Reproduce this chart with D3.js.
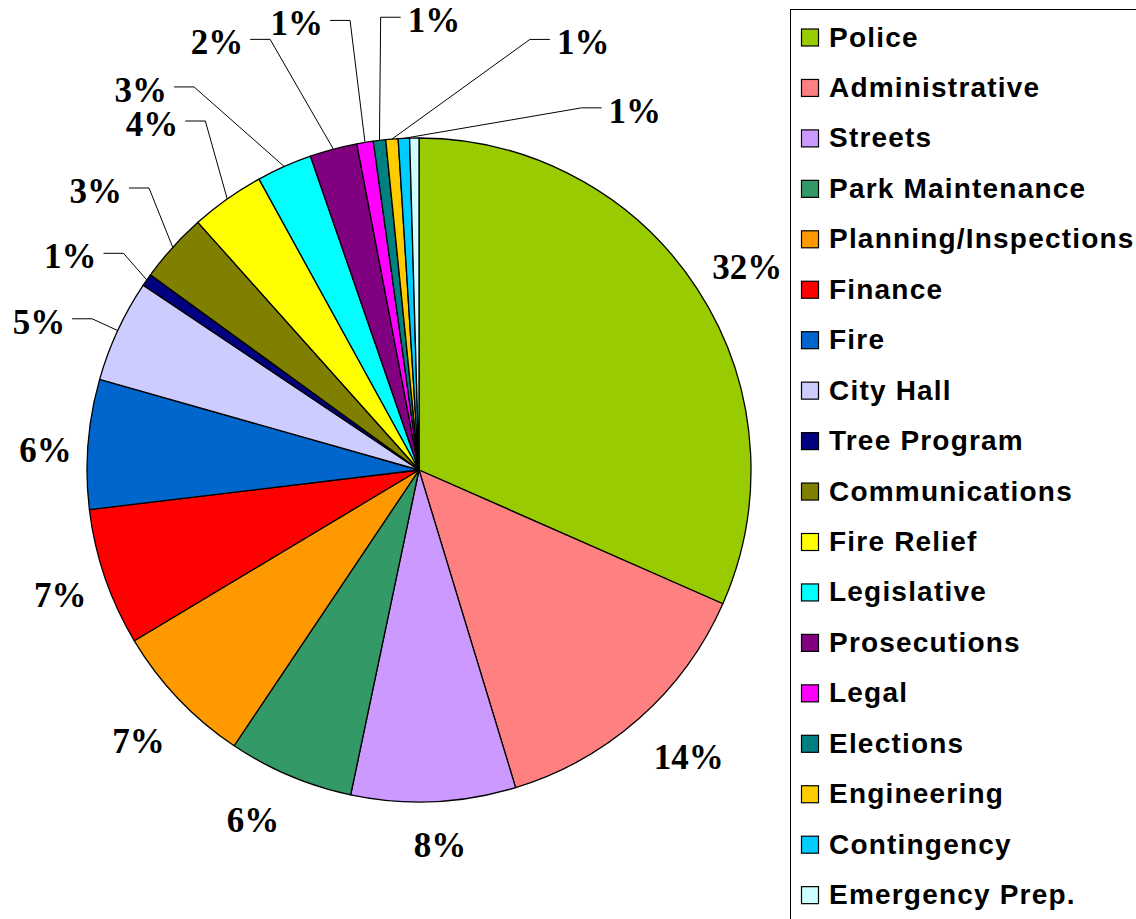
<!DOCTYPE html>
<html>
<head>
<meta charset="utf-8">
<script src="https://cdn.jsdelivr.net/npm/d3@7"></script>
<style>
  body { margin: 0; background: #fff; }
  svg { display: block; }
</style>
</head>
<body>
<div id="chart"></div>
<script>
"use strict";

const categories = ["Police", "Administrative", "Streets", "Park Maintenance", "Planning/Inspections",
    "Finance", "Fire", "City Hall", "Tree Program", "Communications", "Fire Relief", "Legislative",
    "Prosecutions", "Legal", "Elections", "Engineering", "Contingency", "Emergency Prep."];
const shares = [31.6, 13.7, 8.0, 6.1, 7.0, 6.7, 6.3, 5.0, 0.6, 3.4, 3.6, 2.7, 2.3, 0.8, 0.6, 0.6, 0.55, 0.45];
const colors = ["#99CC00", "#FF8080", "#CC99FF", "#339966", "#FF9900", "#FF0000", "#0066CC", "#CCCCFF",
    "#000080", "#808000", "#FFFF00", "#00FFFF", "#800080", "#FF00FF", "#008080", "#FFCC00", "#00CCFF", "#CCFFFF"];

// where Excel put each % label: [angle deg clockwise from top, distance from centre]
const labelSpots = {
    "Police": [58.25, 386],
    "Administrative": [136.8, 394],
    "Streets": [176.8, 376],
    "Park Maintenance": [205.4, 387],
    "Planning/Inspections": [226.0, 390],
    "Finance": [250.8, 380],
    "Fire": [273.1, 374]
};
// small slices, label pushed out with a leader line
const leaderSpots = {
    "City Hall": [291.3, 408],
    "Tree Program": [301.5, 409],
    "Communications": [310.8, 427],
    "Fire Relief": [322.35, 437],
    "Legislative": [323.8, 471],
    "Prosecutions": [334.7, 473],
    "Legal": [344.7, 463],
    "Elections": [1.9, 450],
    "Engineering": [21.0, 458],
    "Contingency": [31.0, 419]
};

const cont = {
    width: 1136,
    height: 919,
    cx: 419,
    cy: 470,
    radius: 332,
    labelRadius: 383
};

const legendBox = { x: 790.5, y: 9.5, rowStart: 37.5, rowStep: 50.45 };

const data = categories.map((c, i) => ({ name: c, value: shares[i], color: colors[i] }));
const total = d3.sum(shares);

const svg = d3.select("#chart")
    .append("svg")
    .attr("width", cont.width)
    .attr("height", cont.height);

const pie = d3.pie().sort(null).value(d => d.value);
const arcs = pie(data);

const arc = d3.arc().innerRadius(0).outerRadius(cont.radius);
const labelArc = d3.arc().innerRadius(cont.labelRadius).outerRadius(cont.labelRadius);
const edgeArc = d3.arc().innerRadius(cont.radius).outerRadius(cont.radius);

const pieG = svg.append("g")
    .attr("transform", "translate(" + cont.cx + "," + cont.cy + ")");

pieG.selectAll(".slice")
    .data(arcs)
    .enter()
    .append("path")
    .attr("class", "slice")
    .attr("d", arc)
    .attr("fill", d => d.data.color)
    .attr("stroke", "#000")
    .attr("stroke-width", 1.3)
    .attr("stroke-linejoin", "round");

function polar(angleDeg, dist) {
    let a = angleDeg * Math.PI / 180;
    return [dist * Math.sin(a), -dist * Math.cos(a)];
}

// percentage labels
arcs.forEach(d => {
    let pct = Math.round(d.data.value / total * 100);
    if (pct < 1) return; // the 0% one is not shown
    let lead = leaderSpots[d.data.name];
    let spot = lead || labelSpots[d.data.name];
    let pos = spot ? polar(spot[0], spot[1]) : labelArc.centroid(d);

    let t = pieG.append("text")
        .attr("x", pos[0])
        .attr("y", pos[1] + 12)
        .attr("text-anchor", "middle")
        .attr("font-family", "'Liberation Serif', 'Times New Roman', serif")
        .attr("font-weight", "bold")
        .attr("font-size", 35)
        .attr("fill", "#000")
        .text(pct + "%");

    if (lead) {
        let box = t.node().getBBox();
        let edge = edgeArc.centroid(d);
        let lineY = pos[1] - 3;
        let x0, x1;
        if (pos[0] < 0) {
            x0 = box.x + box.width + 7;
            x1 = x0 + 20;
        } else {
            x0 = box.x - 7;
            x1 = x0 - 20;
        }
        pieG.append("path")
            .attr("d", d3.line()([[x0, lineY], [x1, lineY], edge]))
            .attr("fill", "none")
            .attr("stroke", "#000")
            .attr("stroke-width", 1);
    }
});

// legend
svg.append("rect")
    .attr("x", legendBox.x)
    .attr("y", legendBox.y)
    .attr("width", 500)
    .attr("height", 1000)
    .attr("fill", "#fff")
    .attr("stroke", "#000")
    .attr("stroke-width", 1);

const rows = svg.selectAll(".legendRow")
    .data(data)
    .enter()
    .append("g")
    .attr("class", "legendRow")
    .attr("transform", (d, i) => "translate(0," + (legendBox.rowStart + i * legendBox.rowStep) + ")");

rows.append("rect")
    .attr("x", 801.5)
    .attr("y", -8.5)
    .attr("width", 17)
    .attr("height", 17)
    .attr("fill", d => d.color)
    .attr("stroke", "#000")
    .attr("stroke-width", 1.2);

rows.append("text")
    .attr("x", 829)
    .attr("y", 9)
    .attr("font-family", "'Liberation Sans', Arial, sans-serif")
    .attr("font-weight", "bold")
    .attr("font-size", 28)
    .attr("letter-spacing", 1.2)
    .attr("fill", "#000")
    .text(d => d.name);
</script>
</body>
</html>
